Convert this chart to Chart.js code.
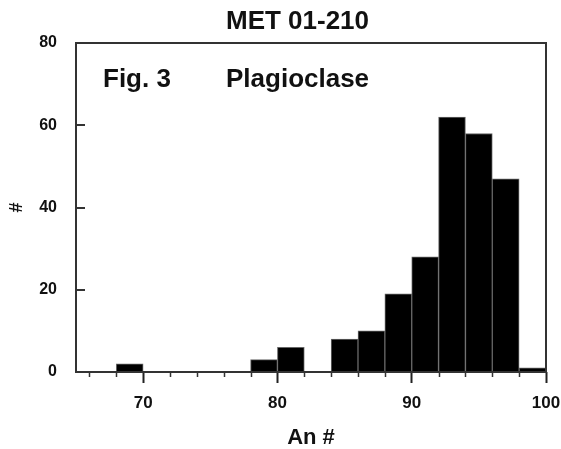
<!DOCTYPE html>
<html>
<head>
<meta charset="utf-8">
<script src="https://cdn.jsdelivr.net/npm/chart.js@4"></script>
<style>
  html, body { margin: 0; padding: 0; background: #fff; }
  #wrap { width: 561px; height: 449px; }
</style>
</head>
<body>
<div id="wrap"><canvas id="histChart" width="561" height="449"></canvas></div>
<script>
// histogram bins (An #), width 2
const binStarts = [66, 68, 70, 72, 74, 76, 78, 80, 82, 84, 86, 88, 90, 92, 94, 96, 98];
const counts    = [ 0,  2,  0,  0,  0,  0,  3,  6,  0,  8, 10, 19, 28, 62, 58, 47,  1];
const xTickLabels = [70, 80, 90, 100];
const yTickLabels = [0, 20, 40, 60, 80];
const binWidth = 2;

const FONT = '"Liberation Sans", Arial, sans-serif';

// only non-empty bins get a bar
const barData = binStarts
  .map((start, i) => ({ x: start + binWidth / 2, y: counts[i] }))
  .filter(p => p.y > 0);

// frame, minor ticks, inner y ticks and the annotation texts
const decorations = {
  id: 'decorations',
  afterDraw(chart) {
    const { ctx, chartArea } = chart;
    const xs = chart.scales.x;
    const ys = chart.scales.y;
    ctx.save();

    // minor ticks on x every 2
    ctx.strokeStyle = '#333';
    ctx.lineWidth = 1.5;
    for (let v = 66; v < 100; v += 2) {
      if (v % 10 === 0) continue;
      const px = Math.round(xs.getPixelForValue(v)) + 0.5;
      ctx.beginPath();
      ctx.moveTo(px, chartArea.bottom);
      ctx.lineTo(px, chartArea.bottom + 5);
      ctx.stroke();
    }

    // y ticks pointing inward
    ctx.lineWidth = 2;
    yTickLabels.forEach(v => {
      const py = Math.round(ys.getPixelForValue(v));
      ctx.beginPath();
      ctx.moveTo(chartArea.left, py);
      ctx.lineTo(chartArea.left + 9, py);
      ctx.stroke();
    });

    // frame
    ctx.strokeStyle = '#333';
    ctx.lineWidth = 2;
    ctx.strokeRect(chartArea.left, chartArea.top, chartArea.right - chartArea.left, chartArea.bottom - chartArea.top);

    // texts
    ctx.fillStyle = '#111';
    ctx.textBaseline = 'alphabetic';
    ctx.font = 'bold 26px ' + FONT;
    ctx.textAlign = 'center';
    ctx.fillText('MET 01-210', 297.5, 29);
    ctx.textAlign = 'left';
    ctx.fillText('Fig. 3', 103, 87);
    ctx.fillText('Plagioclase', 226, 87);

    ctx.restore();
  }
};

new Chart(document.getElementById('histChart'), {
  type: 'bar',
  data: {
    datasets: [{
      data: barData,
      backgroundColor: '#000',
      borderColor: '#666',
      borderWidth: 1,
      barPercentage: 1,
      categoryPercentage: 1
    }]
  },
  options: {
    responsive: false,
    animation: false,
    layout: { padding: { top: 43, right: 15, bottom: 0, left: 0 } },
    plugins: {
      legend: { display: false },
      tooltip: { enabled: false }
    },
    scales: {
      x: {
        type: 'linear',
        min: 65,
        max: 100,
        offset: false,
        afterBuildTicks: scale => { scale.ticks = xTickLabels.map(v => ({ value: v })); },
        afterFit: scale => {
          scale.height = 77;
          scale.paddingLeft = 0;
          scale.paddingRight = 0;
        },
        grid: {
          display: true,
          offset: false,
          drawOnChartArea: false,
          drawTicks: true,
          tickLength: 11,
          tickWidth: 2,
          tickColor: '#222'
        },
        border: { display: false },
        ticks: {
          padding: 10,
          color: '#111',
          font: { family: FONT, size: 17, weight: 'bold' }
        },
        title: {
          display: true,
          text: 'An #',
          color: '#111',
          padding: { top: 0, bottom: -2 },
          font: { family: FONT, size: 22, weight: 'bold' }
        }
      },
      y: {
        min: 0,
        max: 80,
        afterBuildTicks: scale => { scale.ticks = yTickLabels.map(v => ({ value: v })); },
        afterFit: scale => { scale.width = 76; },
        grid: { display: false },
        border: { display: false },
        ticks: {
          padding: 11,
          color: '#111',
          font: { family: FONT, size: 16, weight: 'bold' }
        },
        title: {
          display: true,
          text: '#',
          color: '#111',
          padding: { top: 6, bottom: 0 },
          font: { family: FONT, size: 18, weight: 'bold' }
        }
      }
    }
  },
  plugins: [decorations]
});
</script>
</body>
</html>
